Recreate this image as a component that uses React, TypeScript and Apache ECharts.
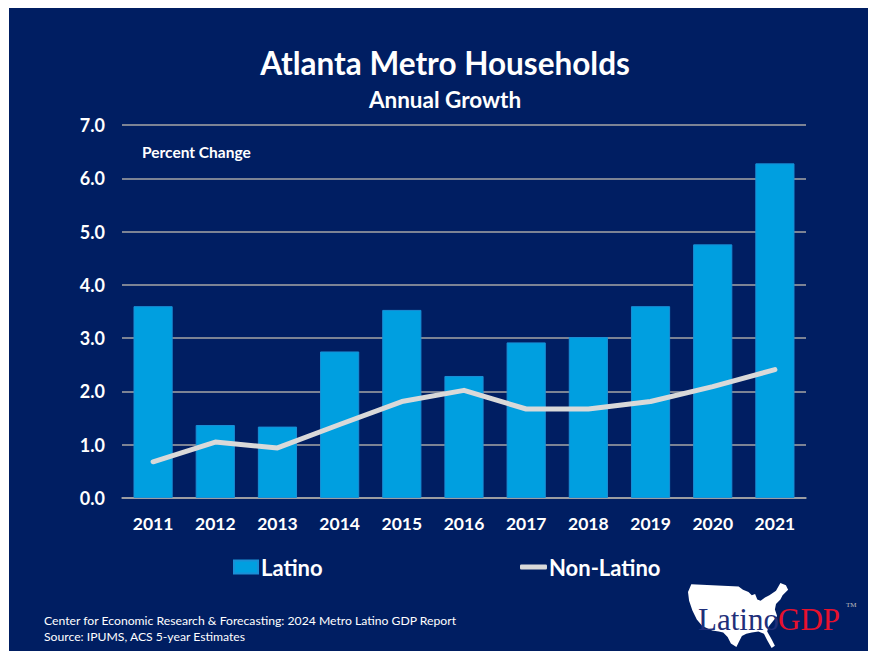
import React, { useEffect, useRef } from "react";
import * as echarts from "echarts";

const years = ["2011", "2012", "2013", "2014", "2015", "2016", "2017", "2018", "2019", "2020", "2021"];
const latino = [3.6, 1.37, 1.34, 2.75, 3.53, 2.29, 2.92, 3.02, 3.6, 4.76, 6.28];
const nonLatino = [0.68, 1.05, 0.94, 1.38, 1.81, 2.02, 1.67, 1.67, 1.81, 2.09, 2.41];

const NAVY = "#001E62";
const BLUE = "#009FE0";
const GRAY_LINE = "#D9D9D9";
const FONT = "Lato, 'Open Sans', sans-serif";

// rough outline of the contiguous US, normalized 0..100 x 0..60
const usOutline: number[][] = [
  [3, 2], [46, 4], [50, 7], [55, 9], [58, 12], [61, 11], [63, 16], [66, 17], [70, 14], [74, 12],
  [80, 8], [84, 1], [89, 3], [91, 7], [86, 12], [84, 16], [80, 20], [79, 25], [81, 31], [77, 36],
  [73, 41], [72, 45], [76, 52], [79, 58], [76, 60], [72, 53], [69, 47], [64, 45], [58, 46], [53, 47],
  [49, 49], [46, 55], [44, 59], [39, 56], [36, 50], [32, 46], [28, 45], [22, 44], [13, 40], [8, 34],
  [4, 26], [1, 17], [0, 9]
];

export default function App() {
  const ref = useRef<HTMLDivElement>(null);
  useEffect(() => {
    if (!ref.current) return;
    const chart = echarts.init(ref.current, null, { renderer: "svg" });
    const mapX = 688, mapY = 582, mapW = 110, mapH = 66;
    const pts = usOutline.map(([x, y]) => [mapX + (x / 100) * mapW, mapY + (y / 60) * mapH]);
    chart.setOption({
      animation: false,
      backgroundColor: "#FFFFFF",
      graphic: [
        { type: "rect", z: -10, shape: { x: 9, y: 8, width: 859, height: 643 }, style: { fill: NAVY } },
        {
          type: "text", x: 445, y: 47,
          style: { text: "Atlanta Metro Households", fill: "#fff", font: `bold 31.5px ${FONT}`, textAlign: "center" }
        },
        {
          type: "text", x: 445, y: 88,
          style: { text: "Annual Growth", fill: "#fff", font: `bold 22.5px ${FONT}`, textAlign: "center" }
        },
        {
          type: "text", x: 142, y: 144,
          style: { text: "Percent Change", fill: "#fff", font: `bold 15.5px ${FONT}` }
        },
        {
          type: "text", x: 44, y: 614,
          style: { text: "Center for Economic Research & Forecasting: 2024 Metro Latino GDP Report", fill: "#fff", font: `12.2px ${FONT}` }
        },
        {
          type: "text", x: 44, y: 630,
          style: { text: "Source: IPUMS, ACS 5-year Estimates", fill: "#fff", font: `12.2px ${FONT}` }
        },
        { type: "polygon", shape: { points: pts }, style: { fill: "#fff" } },
        {
          type: "text", x: 698, y: 604,
          style: { text: "Latino", fill: "#1F2F7A", font: `31px 'Liberation Serif', serif` }
        },
        {
          type: "text", x: 778, y: 604,
          style: { text: "GDP", fill: "#E8112D", font: `31px 'Liberation Serif', serif` }
        },
        {
          type: "text", x: 846, y: 601,
          style: { text: "TM", fill: "#BFBFBF", font: `7px 'Liberation Serif', serif` }
        }
      ],
      legend: [
        {
          data: [{ name: "Latino", icon: "rect" }],
          left: 233, top: 556, padding: 0, itemWidth: 24, itemHeight: 13, itemGap: 4,
          textStyle: { color: "#fff", fontSize: 22, fontWeight: "bold", fontFamily: FONT, padding: [0, 0, 0, -2] }
        },
        {
          data: [{ name: "Non-Latino", icon: "roundRect", itemStyle: { color: GRAY_LINE } }],
          left: 520, top: 556, padding: 0, itemWidth: 27, itemHeight: 5,
          textStyle: { color: "#fff", fontSize: 22, fontWeight: "bold", fontFamily: FONT, padding: [0, 0, 0, -3] }
        }
      ],
      grid: { left: 122, right: 65, top: 125, bottom: 158, containLabel: false },
      xAxis: {
        type: "category",
        data: years,
        axisLine: { lineStyle: { color: "#A6A6A6", width: 1.5 } },
        axisTick: { show: false },
        axisLabel: { color: "#fff", fontSize: 17.5, fontWeight: "bold", fontFamily: FONT, margin: 16 }
      },
      yAxis: {
        type: "value", min: 0, max: 7, interval: 1,
        axisLine: { show: false },
        axisTick: { show: false },
        splitLine: { lineStyle: { color: "#A6A6A6", width: 1.5 } },
        axisLabel: {
          color: "#fff", fontSize: 18, fontWeight: "bold", fontFamily: FONT, margin: 17,
          formatter: (v: number) => v.toFixed(1)
        }
      },
      series: [
        {
          name: "Latino", type: "bar", data: latino, barCategoryGap: "37%",
          itemStyle: { color: BLUE, borderColor: "#1A8FD6", borderWidth: 1 }
        },
        {
          name: "Non-Latino", type: "line", data: nonLatino, symbol: "none",
          lineStyle: { color: GRAY_LINE, width: 5, cap: "round", join: "round" },
          itemStyle: { color: GRAY_LINE }
        }
      ]
    });
    return () => chart.dispose();
  }, []);
  return <div ref={ref} style={{ position: "fixed", left: 0, top: 0, width: 871, height: 656 }} />;
}
